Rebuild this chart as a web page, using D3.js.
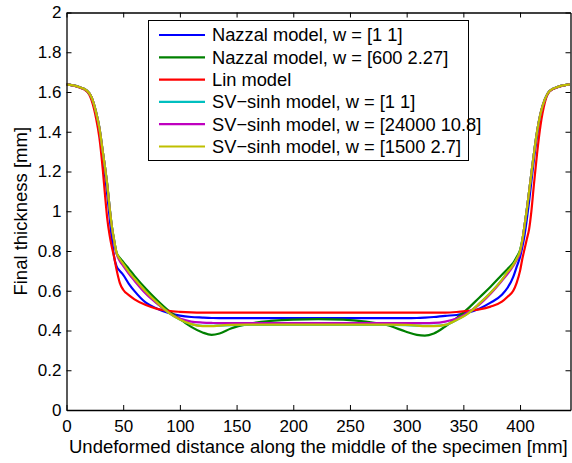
<!DOCTYPE html>
<html>
<head>
<meta charset="utf-8">
<script src="https://cdn.jsdelivr.net/npm/d3@7"></script>
<style>
  html, body { margin: 0; padding: 0; background: #fff; }
  svg { display: block; font-family: "Liberation Sans", Arial, Helvetica, sans-serif; }
</style>
</head>
<body>
<svg id="chart" width="572" height="463"></svg>
<script>
// ---- data ----
const distance = [0, 10, 18, 22, 26, 29, 32, 34, 36, 38, 40, 42, 44, 47, 50, 55, 60, 70, 80, 90, 100, 110, 120, 128, 135, 145, 160, 180, 200, 222,
  244, 264, 284, 299, 309, 316, 324, 334, 344, 354, 364, 374, 384, 389, 394, 397, 400, 402, 404, 406, 408, 410, 412, 415, 418, 422, 426, 434, 444];

const nazzal11 = [1.638, 1.626, 1.605, 1.57, 1.49, 1.40, 1.28, 1.18, 1.08, 0.97, 0.86, 0.77, 0.725, 0.70, 0.68, 0.635, 0.598, 0.54, 0.51, 0.488, 0.475, 0.468, 0.465, 0.463, 0.462, 0.462, 0.462, 0.462, 0.462, 0.462,
  0.462, 0.462, 0.462, 0.462, 0.463, 0.465, 0.468, 0.474, 0.478, 0.49, 0.51, 0.54, 0.58, 0.615, 0.67, 0.72, 0.77, 0.82, 0.88, 0.96, 1.05, 1.15, 1.25, 1.38, 1.48, 1.56, 1.604, 1.626, 1.638];

const nazzalW = [1.638, 1.627, 1.607, 1.575, 1.50, 1.42, 1.30, 1.22, 1.13, 1.02, 0.925, 0.855, 0.795, 0.765, 0.745, 0.71, 0.675, 0.61, 0.552, 0.50, 0.458, 0.418, 0.39, 0.378, 0.385, 0.41, 0.433, 0.448, 0.455, 0.457,
  0.455, 0.445, 0.425, 0.395, 0.378, 0.374, 0.385, 0.42, 0.462, 0.51, 0.565, 0.62, 0.68, 0.71, 0.74, 0.77, 0.805, 0.855, 0.93, 1.01, 1.10, 1.19, 1.28, 1.40, 1.49, 1.565, 1.605, 1.627, 1.638];

const lin = [1.638, 1.625, 1.603, 1.56, 1.47, 1.37, 1.21, 1.08, 0.96, 0.88, 0.82, 0.77, 0.71, 0.64, 0.605, 0.578, 0.557, 0.528, 0.509, 0.499, 0.494, 0.491, 0.49, 0.49, 0.49, 0.49, 0.49, 0.49, 0.49, 0.49,
  0.49, 0.49, 0.49, 0.49, 0.49, 0.49, 0.49, 0.49, 0.493, 0.499, 0.506, 0.52, 0.545, 0.57, 0.60, 0.64, 0.70, 0.76, 0.81, 0.86, 0.91, 1.0, 1.12, 1.29, 1.43, 1.55, 1.603, 1.625, 1.638];

const svsinh11 = [1.638, 1.627, 1.607, 1.574, 1.50, 1.42, 1.30, 1.22, 1.13, 1.02, 0.922, 0.853, 0.793, 0.758, 0.733, 0.693, 0.658, 0.593, 0.538, 0.49, 0.455, 0.432, 0.423, 0.423, 0.425, 0.427, 0.428, 0.428, 0.428, 0.428,
  0.428, 0.428, 0.428, 0.427, 0.425, 0.423, 0.423, 0.428, 0.453, 0.486, 0.535, 0.59, 0.655, 0.693, 0.73, 0.758, 0.798, 0.853, 0.928, 1.01, 1.10, 1.19, 1.28, 1.40, 1.49, 1.564, 1.605, 1.627, 1.638];

const svsinhW1 = [1.638, 1.627, 1.607, 1.575, 1.50, 1.42, 1.30, 1.22, 1.13, 1.02, 0.92, 0.85, 0.79, 0.75, 0.725, 0.685, 0.65, 0.585, 0.535, 0.49, 0.46, 0.445, 0.44, 0.438, 0.437, 0.437, 0.437, 0.437, 0.437, 0.437,
  0.437, 0.437, 0.437, 0.437, 0.437, 0.437, 0.438, 0.445, 0.46, 0.49, 0.53, 0.585, 0.65, 0.685, 0.725, 0.755, 0.79, 0.85, 0.93, 1.01, 1.10, 1.19, 1.28, 1.40, 1.49, 1.565, 1.605, 1.627, 1.638];

const svsinhW2 = [1.638, 1.627, 1.607, 1.575, 1.50, 1.42, 1.30, 1.22, 1.13, 1.02, 0.925, 0.855, 0.795, 0.76, 0.735, 0.695, 0.66, 0.595, 0.54, 0.49, 0.455, 0.432, 0.422, 0.422, 0.425, 0.428, 0.43, 0.43, 0.43, 0.43,
  0.43, 0.43, 0.43, 0.428, 0.425, 0.422, 0.422, 0.428, 0.453, 0.485, 0.535, 0.59, 0.655, 0.695, 0.73, 0.76, 0.80, 0.855, 0.93, 1.01, 1.10, 1.19, 1.28, 1.40, 1.49, 1.565, 1.605, 1.627, 1.638];

const seriesNames = ["Nazzal model, w = [1 1]", "Nazzal model, w = [600 2.27]", "Lin model",
  "SV\u2212sinh model, w = [1 1]", "SV\u2212sinh model, w = [24000 10.8]", "SV\u2212sinh model, w = [1500 2.7]"];
const seriesValues = [nazzal11, nazzalW, lin, svsinh11, svsinhW1, svsinhW2];
const seriesColors = ["#0000ff", "#008000", "#ff0000", "#00bfbf", "#bf00bf", "#bfbf00"];

const xTicks = [0, 50, 100, 150, 200, 250, 300, 350, 400];
const yTicks = [0, 0.2, 0.4, 0.6, 0.8, 1, 1.2, 1.4, 1.6, 1.8, 2];
const xDomain = [0, 444.5];
const yDomain = [0, 2];

// ---- layout ----
const svg = d3.select("#chart");
const L = 66.5, R = 570.5, T = 12.5, B = 410;
const x = d3.scaleLinear().domain(xDomain).range([L, R]);
const y = d3.scaleLinear().domain(yDomain).range([B, T]);
const tickFont = 17;
const labelFont = 18.5;
const legendFont = 18.3;
const fam = "'Liberation Sans', Arial, sans-serif";

// curves
const line = d3.line().x((d, i) => x(distance[i])).y(d => y(d)).curve(d3.curveMonotoneX);
svg.append("clipPath").attr("id", "clip").append("rect")
  .attr("x", L).attr("y", T).attr("width", R - L).attr("height", B - T);
const g = svg.append("g").attr("clip-path", "url(#clip)");
seriesValues.forEach((vals, k) => {
  g.append("path").datum(vals).attr("d", line)
    .attr("fill", "none").attr("stroke", seriesColors[k]).attr("stroke-width", 2.2)
    .attr("stroke-linejoin", "round");
});

// axes (inward ticks on all four sides)
function styleAxis(sel) {
  sel.select(".domain").attr("stroke", "#000").attr("stroke-width", 1.3);
  sel.selectAll(".tick line").attr("stroke", "#000").attr("stroke-width", 1);
  sel.selectAll("text").attr("fill", "#000").style("font-size", tickFont + "px").style("font-family", fam);
}
const xAxis = svg.append("g").attr("transform", `translate(0,${B})`)
  .call(d3.axisBottom(x).tickValues(xTicks).tickFormat(d3.format("d")).tickSizeInner(-5).tickSizeOuter(0).tickPadding(10.2));
styleAxis(xAxis);
const xAxisTop = svg.append("g").attr("transform", `translate(0,${T})`)
  .call(d3.axisTop(x).tickValues(xTicks).tickFormat("").tickSizeInner(-5).tickSizeOuter(0));
styleAxis(xAxisTop);
const yAxis = svg.append("g").attr("transform", `translate(${L},0)`)
  .call(d3.axisLeft(y).tickValues(yTicks).tickFormat(d => d3.format("")(+d.toFixed(1))).tickSizeInner(-5).tickSizeOuter(0).tickPadding(5));
styleAxis(yAxis);
const yAxisRight = svg.append("g").attr("transform", `translate(${R},0)`)
  .call(d3.axisRight(y).tickValues(yTicks).tickFormat("").tickSizeInner(-5).tickSizeOuter(0));
styleAxis(yAxisRight);

// axis labels
svg.append("text").attr("x", 69).attr("y", 453).attr("text-anchor", "start")
  .style("font-size", labelFont + "px").style("font-family", fam)
  .text("Undeformed distance along the middle of the specimen [mm]");
svg.append("text").attr("transform", `translate(27,${(T + B) / 2}) rotate(-90)`).attr("text-anchor", "middle")
  .style("font-size", labelFont + "px").style("font-family", fam).text("Final thickness [mm]");

// legend
const lg = svg.append("g");
lg.append("rect").attr("x", 148.5).attr("y", 20.5).attr("width", 320).attr("height", 140)
  .attr("fill", "#fff").attr("stroke", "#000").attr("stroke-width", 1);
seriesNames.forEach((name, k) => {
  const cy = 35 + k * 22.3;
  lg.append("line").attr("x1", 159).attr("x2", 205).attr("y1", cy).attr("y2", cy)
    .attr("stroke", seriesColors[k]).attr("stroke-width", 2.2);
  lg.append("text").attr("x", 212).attr("y", cy).attr("dy", "0.35em")
    .style("font-size", legendFont + "px").style("font-family", fam).text(name);
});
</script>
</body>
</html>
